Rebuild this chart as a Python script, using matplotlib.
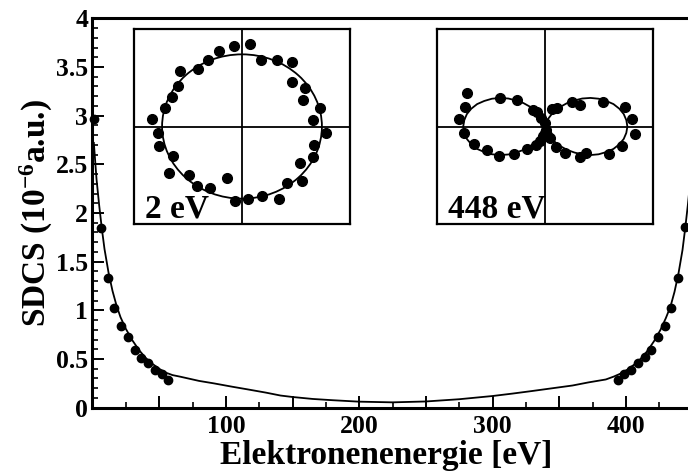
import numpy as np
import matplotlib
matplotlib.use('Agg')
from matplotlib import pyplot as plt
from matplotlib.patches import Circle
from matplotlib.ticker import MultipleLocator, FuncFormatter

#Fonts: bold serif everywhere, also inside mathtext
plt.rcParams['font.family'] = 'Liberation Serif'
plt.rcParams['font.weight'] = 'bold'
plt.rcParams['axes.labelweight'] = 'bold'
plt.rcParams['mathtext.fontset'] = 'custom'
plt.rcParams['mathtext.rm'] = 'Liberation Serif:bold'
plt.rcParams['mathtext.it'] = 'Liberation Serif:bold'
plt.rcParams['mathtext.bf'] = 'Liberation Serif:bold'
plt.rcParams['mathtext.default'] = 'rm'

#Measured SDCS, low energy side
E_low = [1.2, 6.5, 11.6, 16.5, 21.4, 26.6, 31.7, 36.6, 41.8, 46.8, 51.8, 56.8]
S_low = [2.97, 1.85, 1.33, 1.02, 0.84, 0.73, 0.59, 0.51, 0.46, 0.39, 0.35, 0.285]

#Measured SDCS, high energy side
E_high = [393.8, 398.8, 403.8, 409.0, 414.0, 419.0, 424.3, 429.3, 434.0, 439.3, 444.3]
S_high = [0.285, 0.346, 0.387, 0.462, 0.518, 0.593, 0.729, 0.839, 1.021, 1.329, 1.853]

#Calculated curve
E_calc = [1, 3, 5, 7, 9, 12, 15, 18, 21, 25, 30, 35, 40, 45, 50, 55, 60, 66, 80, 91,
          105, 116, 130, 141, 150, 165, 180, 200, 225, 250, 275, 300, 315, 330, 345,
          360, 372, 385, 391, 396, 401, 406, 411, 416, 421, 426, 430, 433.5, 436.5,
          439.5, 442.5, 444.5, 446.5, 448.5, 450.5]
S_calc = [2.72, 2.35, 2.08, 1.84, 1.63, 1.39, 1.20, 1.05, 0.93, 0.81, 0.69, 0.59, 0.51,
          0.45, 0.40, 0.36, 0.335, 0.318, 0.275, 0.25, 0.215, 0.189, 0.155, 0.125, 0.11,
          0.09, 0.077, 0.062, 0.055, 0.064, 0.087, 0.12, 0.145, 0.172, 0.20, 0.228, 0.26,
          0.29, 0.32, 0.35, 0.39, 0.44, 0.50, 0.58, 0.68, 0.80, 0.92, 1.04, 1.19, 1.38,
          1.62, 1.84, 2.08, 2.35, 2.72]

#Angular distribution at 2 eV (x = r cos, y = r sin)
x_2eV = [-0.071, 0.074, -0.213, -0.318, -0.41, -0.57, -0.59, -0.645, -0.71, -0.83,
         -0.78, -0.77, -0.636, -0.676, -0.49, -0.42, -0.296, -0.142, -0.065, 0.058,
         0.188, 0.345, 0.414, 0.553, 0.537, 0.654, 0.67, 0.775, 0.66, 0.722, 0.562,
         0.583, 0.46, 0.46, 0.32, 0.18]
y_2eV = [0.83, 0.845, 0.77, 0.68, 0.59, 0.57, 0.42, 0.30, 0.19, 0.076, -0.068, -0.205,
         -0.30, -0.48, -0.495, -0.61, -0.626, -0.53, -0.76, -0.74, -0.71, -0.74, -0.58,
         -0.557, -0.375, -0.308, -0.188, -0.068, 0.062, 0.19, 0.274, 0.40, 0.46, 0.66,
         0.684, 0.684]
r_2eV = 0.74

#Angular distribution at 448 eV
x_448 = [-0.726, -0.747, -0.80, -0.754, -0.661, -0.537, -0.43, -0.29, -0.167, -0.09,
         -0.053, -0.022, -0.006, 0.009, -0.423, -0.263, -0.115, -0.078, -0.037, -0.006,
         0.065, 0.111, 0.25, 0.324, 0.533, 0.734, 0.806, 0.833, 0.713, 0.589, 0.38,
         0.318, 0.179, 0.095, 0.04, 0.015]
y_448 = [0.343, 0.199, 0.076, -0.068, -0.18, -0.239, -0.30, -0.28, -0.232, -0.188,
         -0.144, -0.10, -0.068, -0.034, 0.297, 0.274, 0.171, 0.144, 0.086, 0.035,
         0.178, 0.189, 0.256, 0.222, 0.256, 0.199, 0.076, -0.075, -0.198, -0.283, -0.267,
         -0.314, -0.267, -0.211, -0.119, -0.085]

#Fit lobe at 448 eV, one quadrant from the origin out to the tip
lobe_x = [0.0, 0.004, 0.013, 0.03, 0.058, 0.095, 0.145, 0.202, 0.27, 0.342, 0.418,
          0.494, 0.565, 0.631, 0.685, 0.726, 0.75, 0.76]
lobe_y = [0.0, 0.022, 0.05, 0.084, 0.125, 0.165, 0.205, 0.240, 0.267, 0.287, 0.293,
          0.285, 0.262, 0.230, 0.183, 0.128, 0.066, 0.0]

W, H = 688, 474
fig = plt.figure(figsize=(W/100, H/100), dpi=100)

#Main spectrum
ax = fig.add_axes([92.5/W, 66.3/H, 600/W, 389.4/H])
ax.plot(E_calc, S_calc, 'k-', lw=1.3)
ax.plot(E_low, S_low, 'ko', ms=6, clip_on=False, zorder=3)
ax.plot(E_high, S_high, 'ko', ms=6, zorder=3)
ax.set_xlim(0, 450)
ax.set_ylim(0, 4)

ax.xaxis.set_major_locator(MultipleLocator(50))
ax.xaxis.set_minor_locator(MultipleLocator(25))
ax.xaxis.set_major_formatter(FuncFormatter(lambda v, p: '%d' % v if v > 0 and v % 100 == 0 else ''))
ax.yaxis.set_major_locator(MultipleLocator(0.5))
ax.yaxis.set_minor_locator(MultipleLocator(0.1))
ax.yaxis.set_major_formatter(FuncFormatter(lambda v, p: '%g' % v))
ax.tick_params(which='both', direction='in', top=False, right=False, labelsize=18.5)
ax.tick_params(which='major', length=8.5, width=1.4)
ax.tick_params(which='minor', length=4, width=1.2)
ax.tick_params(axis='x', which='major', pad=5)
ax.tick_params(axis='y', which='major', pad=3)
for s in ax.spines.values():
    s.set_linewidth(2.2)

ax.set_xlabel('Elektronenenergie [eV]', fontsize=24, fontweight='bold')
ax.xaxis.set_label_coords(0.489, -0.083)
ax.set_ylabel('SDCS (10$^{-6}$a.u.)', fontsize=24, fontweight='bold')
ax.yaxis.set_label_coords(-0.062, 0.5)

#Inset boxes with crossed axes
def inset(left):
    a = fig.add_axes([left/W, (H-224)/H, 216/W, 195/H])
    a.set_xlim(-1, 1)
    a.set_ylim(-1, 1)
    a.set_xticks([])
    a.set_yticks([])
    a.axhline(0, color='k', lw=1.3)
    a.axvline(0, color='k', lw=1.3)
    for s in a.spines.values():
        s.set_linewidth(1.6)
    return a

a1 = inset(134)
a1.add_patch(Circle((0, 0), r_2eV, fill=False, color='k', lw=1.3))
a1.plot(x_2eV, y_2eV, 'ko', ms=7)
a1.text(0.05, 0.035, '2 eV', transform=a1.transAxes, fontsize=24, fontweight='bold')

a2 = inset(437.3)
lx = lobe_x + lobe_x[::-1]
ly = lobe_y + [-v for v in lobe_y[::-1]]
a2.plot(lx, ly, 'k-', lw=1.3)
a2.plot([-v for v in lx], ly, 'k-', lw=1.3)
a2.plot(x_448, y_448, 'ko', ms=7)
a2.text(0.05, 0.035, '448 eV', transform=a2.transAxes, fontsize=24, fontweight='bold')

plt.savefig('out.png', dpi=100)
